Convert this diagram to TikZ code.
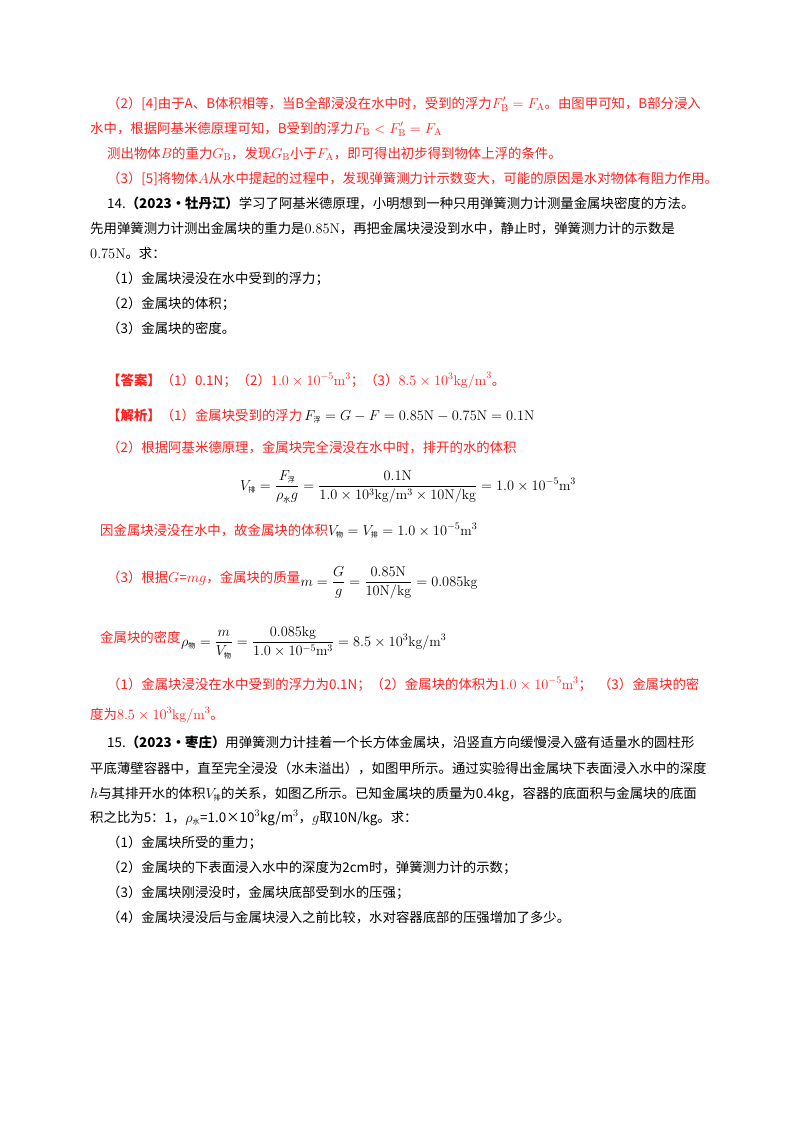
\documentclass[tikz,border=0pt]{standalone}
\usepackage{amsmath}
\usepackage{fontspec}
\usepackage{xcolor}
\newfontfamily\cjk{Noto Sans CJK SC}
\DeclareMathSizes{13.4}{14}{10}{7}
\usetikzlibrary{positioning}
\newcommand{\zh}[1]{\mbox{\cjk\fontsize{7}{7}\selectfont #1}}
\definecolor{ansred}{HTML}{FF2020}
\tikzset{
  txt/.style={anchor=base west,inner sep=0pt,font=\cjk\fontsize{13.4}{14}\selectfont},
  ans/.style={txt,text=ansred},
  eqn/.style={anchor=west,inner sep=0pt,font=\fontsize{13.4}{14}\selectfont}
}
\begin{document}
\begin{tikzpicture}[x=1pt,y=-1pt]
\useasboundingbox[fill=white] (0,0) rectangle (800,1132);

% previous answer, end
\node[ans] (a1) at (107,108) {（2）[4]由于A、B体积相等，当B全部浸没在水中时，受到的浮力$F_{\rm B}'=F_{\rm A}$。由图甲可知，B部分浸入};
\node[ans] (a2) at (90,133) {水中，根据阿基米德原理可知，B受到的浮力$F_{\rm B}<F_{\rm B}'=F_{\rm A}$};
\node[ans] (a3) at (107,158) {测出物体$B$的重力$G_{\rm B}$，发现$G_{\rm B}$小于$F_{\rm A}$，即可得出初步得到物体上浮的条件。};
\node[ans] (a4) at (107,183) {（3）[5]将物体$A$从水中提起的过程中，发现弹簧测力计示数变大，可能的原因是水对物体有阻力作用。};

% question 14
\node[txt] (q1) at (107,208) {14.\textbf{（2023•牡丹江）}学习了阿基米德原理，小明想到一种只用弹簧测力计测量金属块密度的方法。};
\node[txt] (q2) at (90,233) {先用弹簧测力计测出金属块的重力是$0.85\mathrm{N}$，再把金属块浸没到水中，静止时，弹簧测力计的示数是};
\node[txt] (q3) at (90,258) {$0.75\mathrm{N}$。求：};
\node[txt] (q4) at (107,283) {（1）金属块浸没在水中受到的浮力；};
\node[txt] (q5) at (107,308) {（2）金属块的体积；};
\node[txt] (q6) at (107,333) {（3）金属块的密度。};

% answer 14
\node[ans] (s1) at (107,385) {\textbf{【答案】}（1）0.1N；（2）$1.0\times10^{-5}\mathrm{m}^3$；（3）$8.5\times10^{3}\mathrm{kg/m}^3$。};
\node[ans] (s2) at (107,420) {\textbf{【解析】}（1）金属块受到的浮力\,\textcolor{black}{$F_{\zh{浮}}=G-F=0.85\mathrm{N}-0.75\mathrm{N}=0.1\mathrm{N}$}};
\node[ans] (s3) at (107,452) {（2）根据阿基米德原理，金属块完全浸没在水中时，排开的水的体积};
\node[eqn] (e1) at (240,487) {$V_{\zh{排}}=\dfrac{F_{\zh{浮}}}{\rho_{\zh{水}}g}=\dfrac{0.1\mathrm{N}}{1.0\times10^{3}\mathrm{kg/m^3}\times10\mathrm{N/kg}}=1.0\times10^{-5}\mathrm{m}^3$};
\node[ans] (s4) at (100,535) {因金属块浸没在水中，故金属块的体积\textcolor{black}{$V_{\zh{物}}=V_{\zh{排}}=1.0\times10^{-5}\mathrm{m}^3$}};
\node[ans] (s5) at (107,582) {（3）根据$G$=$mg$，金属块的质量};
\node[eqn] (e2) at (s5.base east) [anchor=base west,yshift=-4pt] {$m=\dfrac{G}{g}=\dfrac{0.85\mathrm{N}}{10\mathrm{N/kg}}=0.085\mathrm{kg}$};
\node[ans] (s6) at (100,642) {金属块的密度};
\node[eqn] (e3) at (s6.base east) [anchor=base west,yshift=-4pt] {$\rho_{\zh{物}}=\dfrac{m}{V_{\zh{物}}}=\dfrac{0.085\mathrm{kg}}{1.0\times10^{-5}\mathrm{m}^3}=8.5\times10^{3}\mathrm{kg/m^3}$};
\node[ans] (s7) at (107,689) {（1）金属块浸没在水中受到的浮力为0.1N；（2）金属块的体积为$1.0\times10^{-5}\mathrm{m}^3$；\ \ （3）金属块的密};
\node[ans] (s8) at (90,719) {度为$8.5\times10^{3}\mathrm{kg/m^3}$。};

% question 15
\node[txt] (r1) at (107,747) {15.\textbf{（2023•枣庄）}用弹簧测力计挂着一个长方体金属块，沿竖直方向缓慢浸入盛有适量水的圆柱形};
\node[txt] (r2) at (90,773) {平底薄壁容器中，直至完全浸没（水未溢出），如图甲所示。通过实验得出金属块下表面浸入水中的深度};
\node[txt] (r3) at (90,798) {$h$与其排开水的体积$V_{\zh{排}}$的关系，如图乙所示。已知金属块的质量为0.4kg，容器的底面积与金属块的底面};
\node[txt] (r4) at (90,822) {积之比为5：1，$\rho_{\zh{水}}$=1.0×10$^3$kg/m$^3$，$g$取10N/kg。求：};
\node[txt] (r5) at (107,847) {（1）金属块所受的重力；};
\node[txt] (r6) at (107,872) {（2）金属块的下表面浸入水中的深度为2cm时，弹簧测力计的示数；};
\node[txt] (r7) at (107,897) {（3）金属块刚浸没时，金属块底部受到水的压强；};
\node[txt] (r8) at (107,922) {（4）金属块浸没后与金属块浸入之前比较，水对容器底部的压强增加了多少。};
\end{tikzpicture}
\end{document}
